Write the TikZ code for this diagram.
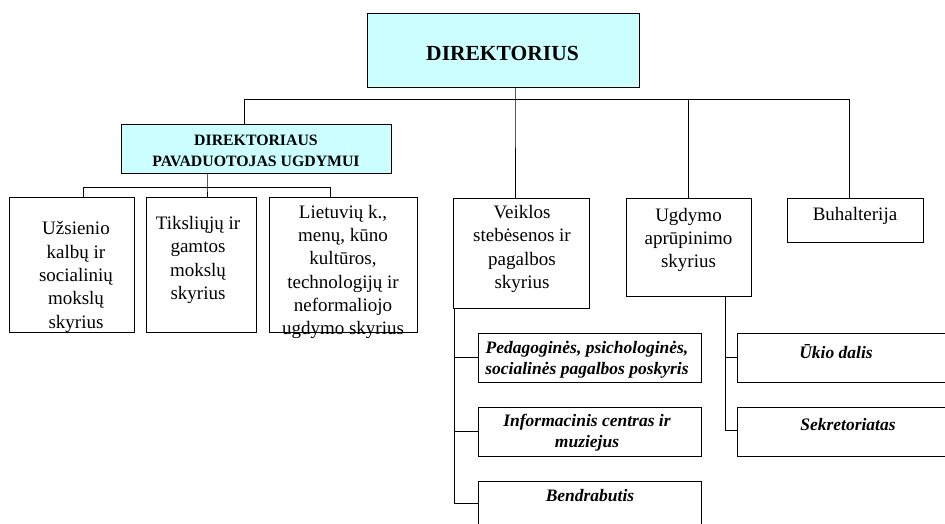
\documentclass[tikz,border=0pt]{standalone}
\usepackage{fontspec}
\setmainfont{Liberation Serif}
\definecolor{boxcyan}{HTML}{CCFFFF}
\begin{document}
\begin{tikzpicture}[x=1pt,y=-1pt,
  box/.style={draw=black, line width=0.9pt, rectangle, inner sep=0pt},
  cyanbox/.style={box, fill=boxcyan},
  conn/.style={draw=black, line width=0.9pt},
  reg/.style={inner sep=0pt, align=center, font=\fontsize{19}{23.3}\selectfont},
  ital/.style={inner sep=0pt, align=center, font=\fontsize{17.5}{21}\selectfont\bfseries\itshape},
  bigtitle/.style={inner sep=0pt, align=center, font=\fontsize{21.5}{25}\selectfont\bfseries},
  deptitle/.style={inner sep=0pt, align=center, font=\fontsize{15.8}{21.7}\selectfont\bfseries}
]
\useasboundingbox (0,0) rectangle (945,524);
\clip (0,0) rectangle (945,524);
\fill[white] (0,0) rectangle (945,524);

% boxes
\node[cyanbox, minimum width=272pt, minimum height=74pt] (top) at (503,50) {};
\node[cyanbox, minimum width=270pt, minimum height=49pt] (dep) at (256,148.5) {};
\node[box, minimum width=125pt, minimum height=135pt] (b1) at (71.5,264.5) {};
\node[box, minimum width=110pt, minimum height=135pt] (b2) at (201,264.5) {};
\node[box, minimum width=148pt, minimum height=135pt] (b3) at (343,264.5) {};
\node[box, minimum width=136pt, minimum height=110pt] (veik) at (521,253) {};
\node[box, minimum width=125pt, minimum height=98pt] (ugd) at (688.5,247) {};
\node[box, minimum width=136pt, minimum height=44pt] (buh) at (855,220) {};
\node[box, minimum width=223pt, minimum height=49pt] (s1) at (589.5,357.5) {};
\node[box, minimum width=223pt, minimum height=49pt] (s2) at (589.5,431.5) {};
\node[box, minimum width=223pt, minimum height=44pt] (s3) at (589.5,503) {};
\node[box, minimum width=240pt, minimum height=49pt] (u1) at (857,357.5) {};
\node[box, minimum width=240pt, minimum height=49pt] (u2) at (857,431.5) {};

% texts
\node[bigtitle] (ttop) at (502.5,53) {DIREKTORIUS};
\node[deptitle] (tdep) at (256,151) {DIREKTORIAUS\\PAVADUOTOJAS UGDYMUI};
\node[reg] (tb1) at (76,277) {Užsienio\\kalbų ir\\socialinių\\mokslų\\skyrius};
\node[reg] (tb2) at (198,260) {Tiksliųjų ir\\gamtos\\mokslų\\skyrius};
\node[reg] (tb3) at (343,272) {Lietuvių k.,\\menų, kūno\\kultūros,\\technologijų ir\\neformaliojo\\ugdymo skyrius};
\node[reg] (tveik) at (522,249) {Veiklos\\stebėsenos ir\\pagalbos\\skyrius};
\node[reg] (tugd) at (688.5,240) {Ugdymo\\aprūpinimo\\skyrius};
\node[reg] (tbuh) at (855,216) {Buhalterija};
\node[ital] (ts1) at (587,360) {Pedagoginės, psichologinės,\\socialinės pagalbos poskyris};
\node[ital] (ts2) at (587,433) {Informacinis centras ir\\muziejus};
\node[ital] (ts3) at (590,496) {Bendrabutis};
\node[ital] (tu1) at (836,352) {Ūkio dalis};
\node[ital] (tu2) at (848,425) {Sekretoriatas};

% junction coordinates
\coordinate (bL) at (244,99);
\coordinate (bR) at (849,99);
\coordinate (j1) at (515,99);
\coordinate (j2) at (688,99);
\coordinate (d0) at (207,187);
\coordinate (c1) at (83,187);
\coordinate (c3) at (330,187);
\coordinate (vv) at (454,503);
\coordinate (uu) at (725,430);

% connectors
\draw[conn] (bL) -- (bR);
\draw[conn] (top.south -| j1) -- (j1) -- (j1 |- veik.north);
\draw[conn] (bL) -- (bL |- dep.north);
\draw[conn] (j2) -- (j2 |- ugd.north);
\draw[conn] (bR) -- (bR |- buh.north);

\draw[conn] (dep.south -| d0) -- (d0) -- (d0 |- b2.north);
\draw[conn] (c1 |- b1.north) -- (c1) -- (c3) -- (c3 |- b3.north);

\draw[conn] (veik.south -| vv) -- (vv) -- (vv -| s3.west);
\draw[conn] (vv |- s1.west) -- (s1.west);
\draw[conn] (vv |- s2.west) -- (s2.west);

\draw[conn] (ugd.south -| uu) -- (uu) -- (uu -| u2.west);
\draw[conn] (uu |- u1.west) -- (u1.west);
\end{tikzpicture}
\end{document}
